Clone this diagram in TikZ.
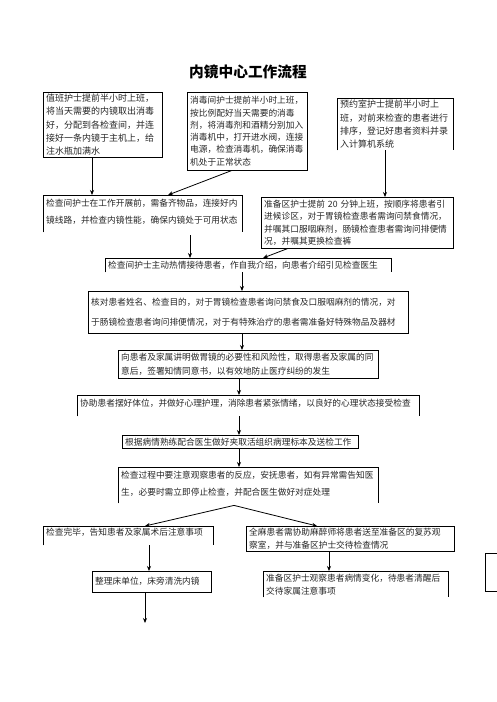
\documentclass[tikz,border=0pt]{standalone}
\usepackage{fontspec}
\newfontfamily\cjk{Noto Sans CJK SC}
\usetikzlibrary{arrows.meta}
\tikzset{
  box/.style={anchor=north west, inner xsep=3pt, inner ysep=0pt, align=left,
    font=\cjk\fontsize{8.7}{13}\selectfont, text=black!85},
  arr/.style={-{Stealth[length=5pt,width=4pt]}, line width=0.8pt},
  frame/.style={line width=0.9pt},
}
\begin{document}
\begin{tikzpicture}[x=1pt,y=-1pt]
\useasboundingbox (0,0) rectangle (496,702);

\node[font=\cjk\bfseries\fontsize{14.7}{16}\selectfont] (T) at (248,72) {内镜中心工作流程};

% top row
\node[box, minimum width=119pt, minimum height=65pt, text width=113pt,
  font=\cjk\fontsize{9}{13.25}\selectfont] (A) at (43,92)
  {值班护士提前半小时上班，\\将当天需要的内镜取出消毒\\好，分配到各检查间，并连\\接好一条内镜于主机上，给\\注水瓶加满水};
\node[box, minimum width=120pt, minimum height=78pt, text width=114pt,
  font=\cjk\fontsize{8.7}{12.3}\selectfont] (B) at (187,92)
  {消毒间护士提前半小时上班，\\按比例配好当天需要的消毒\\剂，将消毒剂和酒精分别加入\\消毒机中，打开进水阀，连接\\电源，检查消毒机，确保消毒\\机处于正常状态};
\node[box, minimum width=116pt, minimum height=52pt, text width=110pt,
  font=\cjk\fontsize{9}{13.3}\selectfont] (C) at (337,98)
  {预约室护士提前半小时上\\班，对前来检查的患者进行\\排序，登记好患者资料并录\\入计算机系统};

% second row
\node[box, minimum width=199pt, minimum height=33pt, text width=193pt,
  font=\cjk\fontsize{8.7}{17}\selectfont] (D) at (43,195)
  {检查间护士在工作开展前，需备齐物品，连接好内\\镜线路，并检查内镜性能，确保内镜处于可用状态};
\node[box, minimum width=192pt, minimum height=51pt, text width=186pt,
  font=\cjk\fontsize{8.7}{12.4}\selectfont] (E) at (261,197)
  {准备区护士提前 20 分钟上班，按顺序将患者引\\进候诊区，对于胃镜检查患者需询问禁食情况，\\并嘱其口服咽麻剂，肠镜检查患者需询问排便情\\况，并嘱其更换检查裤};

% main column
\node[box, minimum width=286pt, minimum height=14pt, text width=280pt] (F) at (105,258)
  {检查间护士主动热情接待患者，作自我介绍，向患者介绍引见检查医生};
\node[box, minimum width=320pt, minimum height=42pt, text width=314pt,
  font=\cjk\fontsize{8.7}{20}\selectfont] (G) at (88,291)
  {核对患者姓名、检查目的，对于胃镜检查患者询问禁食及口服咽麻剂的情况，对\\于肠镜检查患者询问排便情况，对于有特殊治疗的患者需准备好特殊物品及器材};
\node[box, minimum width=260pt, minimum height=28pt, text width=254pt,
  font=\cjk\fontsize{8.7}{14.5}\selectfont] (H) at (118,350)
  {向患者及家属讲明做胃镜的必要性和风险性，取得患者及家属的同\\意后，签署知情同意书，以有效地防止医疗纠纷的发生};
\node[box, minimum width=342pt, minimum height=16pt, text width=336pt] (I) at (77,395)
  {协助患者摆好体位，并做好心理护理，消除患者紧张情绪，以良好的心理状态接受检查};
\node[box, minimum width=236pt, minimum height=13pt, text width=230pt] (J) at (122,435)
  {根据病情熟练配合医生做好夹取活组织病理标本及送检工作};
\node[box, minimum width=260pt, minimum height=33pt, text width=254pt,
  font=\cjk\fontsize{8.7}{17}\selectfont] (K) at (118,467)
  {检查过程中要注意观察患者的反应，安抚患者，如有异常需告知医\\生，必要时需立即停止检查，并配合医生做好对症处理};

% bottom branches
\node[box, minimum width=170pt, minimum height=13pt, text width=164pt] (L) at (43,526)
  {检查完毕，告知患者及家属术后注意事项};
\node[box, minimum width=208pt, minimum height=25pt, text width=202pt,
  font=\cjk\fontsize{8.7}{12.5}\selectfont] (M) at (246,526)
  {全麻患者需协助麻醉师将患者送至准备区的复苏观\\察室，并与准备区护士交待检查情况};
\node[box, minimum width=119pt, minimum height=21pt, text width=113pt] (N) at (92,571)
  {整理床单位，床旁清洗内镜};
\node[box, minimum width=185pt, minimum height=26pt, text width=179pt,
  font=\cjk\fontsize{8.7}{13}\selectfont] (O) at (263,571)
  {准备区护士观察患者病情变化，待患者清醒后\\交待家属注意事项};
\coordinate (End) at (145,623);

% frames
\draw[frame] (A.north west) rectangle (A.south east);
\draw[frame] (B.north west) rectangle (B.south east);
\draw[frame] (C.south west) |- (C.north east) -- (C.south east);
\draw[frame] ([yshift=-4pt]D.south west) |- (D.north east) -- ([yshift=-4pt]D.south east);
\draw[frame] (E.north west) rectangle (E.south east);
\draw[frame] (F.south west) |- (F.north east) -- (F.south east);
\draw[frame] (G.north west) rectangle (G.south east);
\draw[frame] (H.north west) rectangle (H.south east);
\draw[frame] ([yshift=-5pt]I.south west) |- (I.north east) -- ([yshift=-5pt]I.south east);
\draw[frame] (J.north west) rectangle (J.south east);
\draw[frame] ([yshift=-3pt]K.south west) |- (K.north east) -- ([yshift=-3pt]K.south east);
\draw[frame] ([yshift=-6pt]L.south west) |- (L.north east) -- ([yshift=-6pt]L.south east);
\draw[frame] (M.north west) rectangle (M.south east);
\draw[frame] (N.north west) rectangle (N.south east);
\draw[frame] (O.south west) |- (O.north east) -- (O.south east);
\draw[frame] (500,553) -| (485,591) -- (500,591);

% connectors
\draw[arr] ([xshift=49pt]A.south west) -- ([xshift=49pt]D.north west);
\draw[arr] ([xshift=45pt]B.south west) -- ([xshift=125pt]D.north west);
\draw[arr] ([xshift=48pt]C.south west) -- ([xshift=124pt]E.north west);
\draw[arr] ([xshift=147pt,yshift=-7pt]D.south west) -- ([xshift=85pt]F.north west);
\draw[arr] ([xshift=27pt]E.south west) -- ([xshift=158pt]F.north west);
\draw[arr] ([xshift=137pt]F.south west) -- ([xshift=154pt]G.north west);
\draw[arr] ([xshift=154pt]G.south west) -- ([xshift=124pt]H.north west);
\draw[arr] ([xshift=121pt]H.south west) -- ([xshift=162pt]I.north west);
\draw[arr] ([xshift=162pt,yshift=-5pt]I.south west) -- ([xshift=117pt]J.north west);
\draw[arr] ([xshift=117pt]J.south west) -- ([xshift=121pt]K.north west);
\draw[arr] ([xshift=116pt,yshift=-5pt]K.south west) -- ([xshift=102pt]L.north west);
\draw[arr] ([xshift=116pt,yshift=-5pt]K.south west) -- ([xshift=71pt]M.north west);
\draw[arr] ([xshift=106pt,yshift=-6pt]L.south west) -- ([xshift=57pt]N.north west);
\draw[arr] ([xshift=83pt]M.south west) -- ([xshift=66pt]O.north west);
\draw[arr] ([xshift=53pt]N.south west) -- (End);
\end{tikzpicture}
\end{document}
